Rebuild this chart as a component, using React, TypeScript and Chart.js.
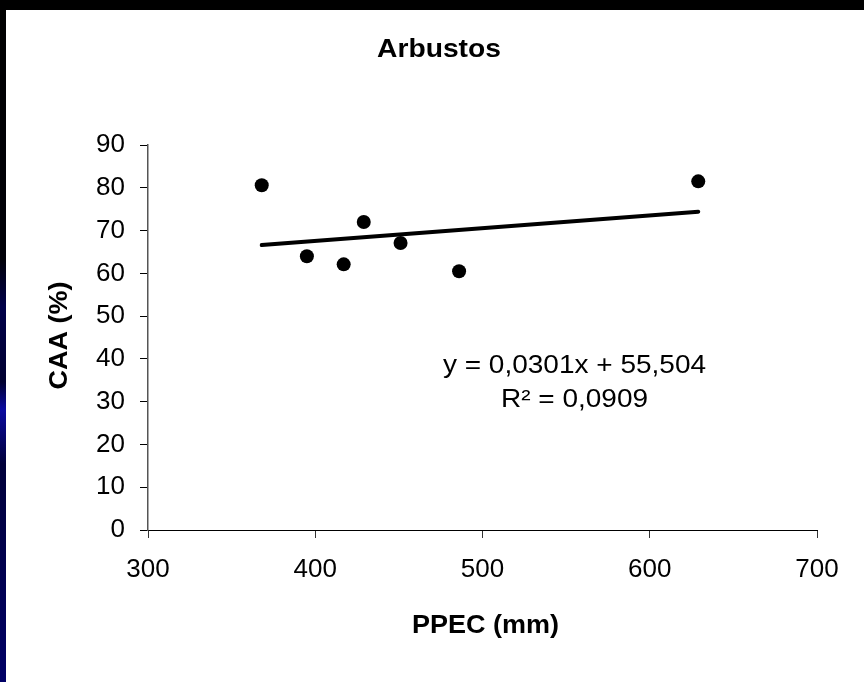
import React, { useEffect, useRef } from "react";
import { Chart, registerables } from "chart.js";

Chart.register(...registerables);

// ---- data ----
const chartTitle = "Arbustos";
const xAxisTitle = "PPEC (mm)";
const yAxisTitle = "CAA (%)";
const ppec = [368, 395, 417, 429, 451, 486, 629];
const caa = [80.6, 64.0, 62.1, 72.0, 67.1, 60.5, 81.5];
const trendX = [368, 629];
const trendY = [66.6, 74.4];
const equationText = "y = 0,0301x + 55,504";
const r2Text = "R² = 0,0909";
const xMin = 300;
const xMax = 700;
const xStep = 100;
const yMin = 0;
const yMax = 90;
const yStep = 10;

const FAMILY = "'Liberation Sans', Arial, Helvetica, sans-serif";

function drawStretched(
  ctx: CanvasRenderingContext2D,
  text: string,
  x: number,
  y: number,
  font: string,
  sx: number,
  rotate = 0
) {
  ctx.save();
  ctx.translate(x, y);
  if (rotate) ctx.rotate(rotate);
  ctx.scale(sx, 1);
  ctx.font = font;
  ctx.fillStyle = "#000";
  ctx.textAlign = "center";
  ctx.textBaseline = "alphabetic";
  ctx.fillText(text, 0, 0);
  ctx.restore();
}

const bgPlugin = {
  id: "slideBg",
  beforeDraw(chart: any) {
    const { ctx, width, height } = chart;
    ctx.save();
    ctx.fillStyle = "#000";
    ctx.fillRect(0, 0, width, height);
    const g = ctx.createLinearGradient(0, 0, 0, height);
    g.addColorStop(0, "#000000");
    g.addColorStop(0.38, "#000008");
    g.addColorStop(0.45, "#00004a");
    g.addColorStop(0.56, "#000030");
    g.addColorStop(0.6, "#0a0aa0");
    g.addColorStop(0.68, "#00003a");
    g.addColorStop(1, "#000066");
    ctx.fillStyle = g;
    ctx.fillRect(0, 0, 6, height);
    ctx.fillStyle = "#fff";
    ctx.fillRect(6, 10, width - 6, height - 10);
    ctx.restore();
  },
};

const textPlugin = {
  id: "textLayer",
  afterDraw(chart: any) {
    const { ctx } = chart;
    const xs = chart.scales.x;
    const ys = chart.scales.y;
    const ca = chart.chartArea;
    // chart title
    drawStretched(ctx, chartTitle, 439, 57, `bold 25px ${FAMILY}`, 1.13);
    // x axis title
    drawStretched(ctx, xAxisTitle, (ca.left + ca.right) / 2 + 3, 633, `bold 25px ${FAMILY}`, 1.08);
    // y axis title (rotated)
    drawStretched(ctx, yAxisTitle, 67, (ca.top + ca.bottom) / 2 - 2, `bold 25px ${FAMILY}`, 1.08, -Math.PI / 2);
    // regression annotation
    const ax = xs.getPixelForValue(555);
    drawStretched(ctx, equationText, ax, ys.getPixelForValue(36.7), `25px ${FAMILY}`, 1.12);
    drawStretched(ctx, r2Text, ax, ys.getPixelForValue(28.8), `25px ${FAMILY}`, 1.12);
  },
};

export default function App() {
  const ref = useRef<HTMLCanvasElement | null>(null);

  useEffect(() => {
    const canvas = ref.current;
    if (!canvas) return;
    const chart = new Chart(canvas, {
      type: "scatter",
      data: {
        datasets: [
          {
            type: "scatter",
            data: ppec.map((x, i) => ({ x, y: caa[i] })),
            backgroundColor: "#000",
            borderColor: "#000",
            pointRadius: 7,
            pointHoverRadius: 7,
            borderWidth: 0,
          } as any,
          {
            type: "line",
            data: trendX.map((x, i) => ({ x, y: trendY[i] })),
            borderColor: "#000",
            borderWidth: 4,
            pointRadius: 0,
            showLine: true,
            fill: false,
            borderCapStyle: "round",
            tension: 0,
          } as any,
        ],
      },
      options: {
        animation: false,
        responsive: false,
        devicePixelRatio: 1,
        layout: { padding: { top: 145, left: 0, right: 47, bottom: 0 } },
        plugins: {
          legend: { display: false },
          tooltip: { enabled: false },
          title: { display: false },
        },
        scales: {
          x: {
            type: "linear",
            min: xMin,
            max: xMax,
            ticks: {
              stepSize: xStep,
              color: "#000",
              padding: 16,
              font: { family: FAMILY, size: 26 },
            },
            grid: {
              display: true,
              drawOnChartArea: false,
              drawTicks: true,
              tickLength: 8,
              color: "#333",
            },
            border: { display: true, color: "#000", width: 1 },
            afterFit(scale: any) {
              scale.height = 152;
            },
          },
          y: {
            type: "linear",
            min: yMin,
            max: yMax,
            ticks: {
              stepSize: yStep,
              color: "#000",
              padding: 15,
              font: { family: FAMILY, size: 26 },
            },
            grid: {
              display: true,
              drawOnChartArea: false,
              drawTicks: true,
              tickLength: 8,
              color: "#000",
            },
            border: { display: true, color: "#555", width: 1.5 },
            afterFit(scale: any) {
              scale.width = 148;
            },
          },
        },
      } as any,
      plugins: [bgPlugin, textPlugin],
    });
    return () => chart.destroy();
  }, []);

  return (
    <canvas
      ref={ref}
      width={864}
      height={682}
      style={{ position: "fixed", left: 0, top: 0, width: 864, height: 682, display: "block" }}
    />
  );
}
